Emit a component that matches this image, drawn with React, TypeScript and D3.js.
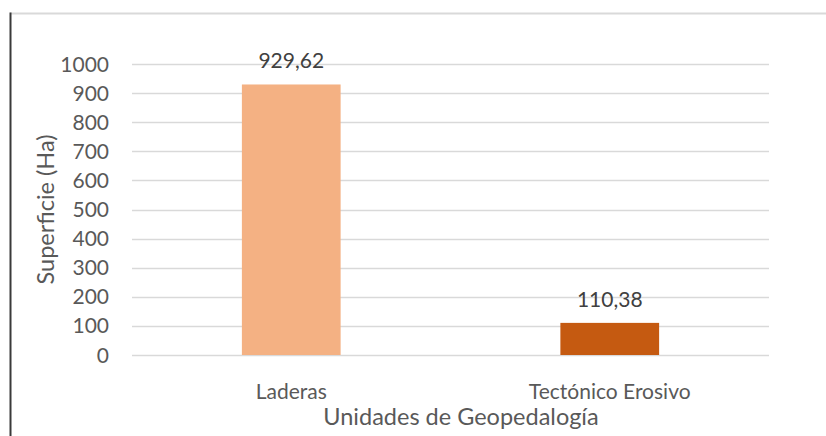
import React, { useRef, useEffect } from "react";
import * as d3 from "d3";

const categories = ["Laderas", "Tectónico Erosivo"];
const values = [929.62, 110.38];
const barColors = ["#F4B183", "#C55A11"];
const yTicks = [0, 100, 200, 300, 400, 500, 600, 700, 800, 900, 1000];
const xTitle = "Unidades de Geopedalogía";
const yTitle = "Superficie (Ha)";

const FONT = "Lato, 'Noto Sans', sans-serif";

const App = () => {
  const d3Container = useRef<SVGSVGElement | null>(null);

  useEffect(() => {
    if (!d3Container.current) return;
    const svg = d3.select(d3Container.current);
    svg.selectAll("*").remove();

    const width = 826;
    const height = 436;
    const margin = { top: 64, right: 57, bottom: 81, left: 132 };
    const innerW = width - margin.left - margin.right;
    const innerH = height - margin.top - margin.bottom;

    svg.append("rect").attr("width", width).attr("height", height).attr("fill", "#fff");

    // frame lines (chart area border)
    svg
      .append("line")
      .attr("x1", 10)
      .attr("x2", width)
      .attr("y1", 13.5)
      .attr("y2", 13.5)
      .attr("stroke", "#d9d9d9")
      .attr("stroke-width", 2);
    svg
      .append("line")
      .attr("x1", 10.5)
      .attr("x2", 10.5)
      .attr("y1", 12.5)
      .attr("y2", height)
      .attr("stroke", "#3a3a3a")
      .attr("stroke-width", 2);

    const chart = svg
      .append("g")
      .attr("transform", `translate(${margin.left},${margin.top})`);

    const xScale = d3
      .scaleBand()
      .domain(categories)
      .range([0, innerW])
      .paddingInner(0.69)
      .paddingOuter(0.345);

    const yScale = d3.scaleLinear().domain([0, 1000]).range([innerH, 0]);

    // gridlines
    chart
      .selectAll("line.grid")
      .data(yTicks)
      .enter()
      .append("line")
      .attr("class", "grid")
      .attr("x1", 0)
      .attr("x2", innerW)
      .attr("y1", (d) => Math.round(yScale(d)) + 0.5)
      .attr("y2", (d) => Math.round(yScale(d)) + 0.5)
      .attr("stroke", "#d9d9d9")
      .attr("stroke-width", 1.3);

    // y tick labels
    chart
      .selectAll("text.ytick")
      .data(yTicks)
      .enter()
      .append("text")
      .attr("class", "ytick")
      .attr("x", -23)
      .attr("y", (d) => yScale(d))
      .attr("dy", "0.36em")
      .attr("text-anchor", "end")
      .attr("fill", "#595959")
      .style("font-family", FONT)
      .style("font-size", "21px")
      .text((d) => d);

    // bars
    chart
      .selectAll("rect.bar")
      .data(values)
      .enter()
      .append("rect")
      .attr("class", "bar")
      .attr("x", (d, i) => xScale(categories[i]) as number)
      .attr("y", (d) => yScale(d))
      .attr("width", xScale.bandwidth())
      .attr("height", (d) => innerH - yScale(d))
      .attr("fill", (d, i) => barColors[i]);

    // data labels
    chart
      .selectAll("text.value")
      .data(values)
      .enter()
      .append("text")
      .attr("class", "value")
      .attr("x", (d, i) => (xScale(categories[i]) as number) + xScale.bandwidth() / 2)
      .attr("y", (d) => yScale(d) - 16)
      .attr("text-anchor", "middle")
      .attr("fill", "#404040")
      .style("font-family", FONT)
      .style("font-size", "21px")
      .text((d) => d.toFixed(2).replace(".", ","));

    // category labels
    chart
      .selectAll("text.cat")
      .data(categories)
      .enter()
      .append("text")
      .attr("class", "cat")
      .attr("x", (d) => (xScale(d) as number) + xScale.bandwidth() / 2)
      .attr("y", innerH + 44)
      .attr("text-anchor", "middle")
      .attr("fill", "#595959")
      .style("font-family", FONT)
      .style("font-size", "21px")
      .text((d) => d);

    // X axis title
    svg
      .append("text")
      .attr("x", 461)
      .attr("y", 425)
      .attr("text-anchor", "middle")
      .attr("fill", "#595959")
      .style("font-family", FONT)
      .style("font-size", "23.5px")
      .text(xTitle);

    // Y axis title
    svg
      .append("text")
      .attr("transform", `translate(54,${margin.top + innerH / 2}) rotate(-90)`)
      .attr("text-anchor", "middle")
      .attr("fill", "#595959")
      .style("font-family", FONT)
      .style("font-size", "23.5px")
      .text(yTitle);
  }, []);

  return (
    <svg
      ref={d3Container}
      width={826}
      height={436}
      style={{ position: "absolute", left: 0, top: 0 }}
    />
  );
};

export default App;
